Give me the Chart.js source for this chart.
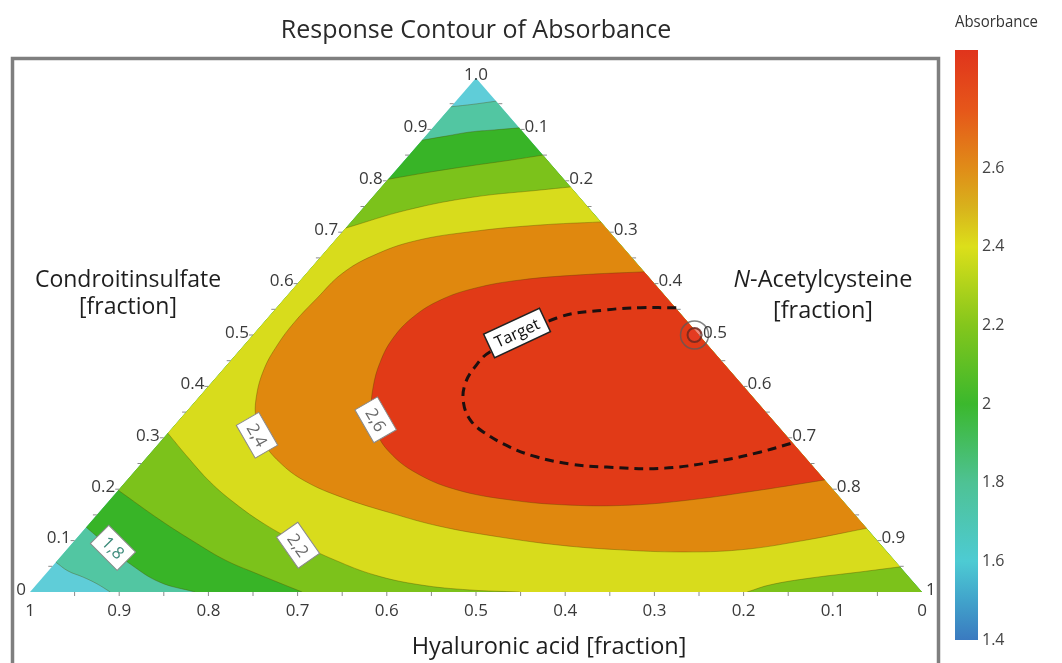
<!DOCTYPE html>
<html>
<head>
<meta charset="utf-8">
<script src="https://cdn.jsdelivr.net/npm/chart.js@4.4.1/dist/chart.umd.min.js"></script>
<style>
  html, body { margin: 0; padding: 0; background: #fff; }
  #wrap { position: relative; width: 1062px; height: 663px; overflow: hidden; }
  #main { position: absolute; left: 0; top: 0; }
  #bar { position: absolute; left: 930px; top: 0; }
</style>
</head>
<body>
<div id="wrap">
  <canvas id="main" width="1062" height="663"></canvas>
  <canvas id="bar" width="132" height="663"></canvas>
</div>
<script>
const FONT = "'Open Sans', 'Noto Sans', sans-serif";
const chartTitle = "Response Contour of Absorbance";

// contour levels, low to high
const levels = [1.6, 1.8, 2.0, 2.2, 2.4, 2.6];

// contour lines, points are [N-Acetylcysteine, Condroitinsulfate] fractions
const c16Top = [[0, 0.944], [0.023, 0.949], [0.045, 0.955]];
const c16Low = [[0, 0.058], [0.022, 0.041], [0.045, 0.029], [0.067, 0.016], [0.090, 0]];
const c18Top = [[0, 0.879], [0.023, 0.887], [0.046, 0.895], [0.071, 0.899], [0.097, 0.903]];
const c18Low = [[0, 0.126], [0.047, 0.086], [0.087, 0.053], [0.136, 0.019], [0.185, 0]];
const c20Top = [[0, 0.803], [0.040, 0.817], [0.079, 0.829], [0.118, 0.840], [0.150, 0.850]];
const c20Low = [[0, 0.198], [0.076, 0.140], [0.139, 0.095], [0.188, 0.062], [0.234, 0.037], [0.305, 0]];
const c22Top = [[0, 0.708], [0.051, 0.743], [0.112, 0.768], [0.181, 0.782], [0.212, 0.788]];
const c22Low = [[0, 0.309], [0.047, 0.261], [0.095, 0.214], [0.143, 0.173], [0.197, 0.132],
  [0.254, 0.095], [0.311, 0.062], [0.370, 0.033], [0.430, 0.014], [0.491, 0.004], [0.549, 0]];
const c22Right = [[0.951, 0.049], [0.911, 0.039], [0.861, 0.027], [0.823, 0.014], [0.804, 0]];
const c24 = [[0.280, 0.720], [0.215, 0.714], [0.148, 0.702], [0.090, 0.683], [0.057, 0.654],
  [0.040, 0.619], [0.036, 0.572], [0.034, 0.525], [0.037, 0.481], [0.046, 0.432], [0.065, 0.377],
  [0.086, 0.335], [0.114, 0.294], [0.153, 0.253], [0.200, 0.216], [0.260, 0.183], [0.327, 0.154],
  [0.395, 0.128], [0.473, 0.107], [0.549, 0.091], [0.621, 0.082], [0.690, 0.078], [0.755, 0.082],
  [0.814, 0.099], [0.876, 0.124]];
const c26 = [[0.377, 0.623], [0.308, 0.617], [0.246, 0.607], [0.203, 0.591], [0.176, 0.568],
  [0.162, 0.535], [0.160, 0.494], [0.169, 0.447], [0.186, 0.397], [0.206, 0.354], [0.233, 0.311],
  [0.267, 0.272], [0.315, 0.233], [0.376, 0.200], [0.449, 0.179], [0.521, 0.169], [0.588, 0.169],
  [0.650, 0.179], [0.719, 0.198], [0.782, 0.218]];
const targetLine = [[0.448, 0.553], [0.408, 0.553], [0.373, 0.549], [0.324, 0.533], [0.282, 0.467],
  [0.280, 0.436], [0.286, 0.403], [0.302, 0.368], [0.326, 0.335], [0.353, 0.311], [0.397, 0.282],
  [0.436, 0.263], [0.481, 0.249], [0.525, 0.243], [0.591, 0.241], [0.650, 0.257], [0.682, 0.272],
  [0.710, 0.290]];
const targetPoint = [[0.495, 0.5]];

// triangle corners: Hyaluronic acid, N-Acetylcysteine, Condroitinsulfate = 1
const cornerH = [0, 0], cornerN = [1, 0], cornerC = [0, 1];

// tick labels
const leftTicks = ["0", "0.1", "0.2", "0.3", "0.4", "0.5", "0.6", "0.7", "0.8", "0.9", "1.0"];
const rightTicks = ["0", "0.1", "0.2", "0.3", "0.4", "0.5", "0.6", "0.7", "0.8", "0.9", "1"];
const bottomTicks = ["1", "0.9", "0.8", "0.7", "0.6", "0.5", "0.4", "0.3", "0.2", "0.1", "0"];

const contourTags = [
  { text: "1,8", n: 0.050, c: 0.086, angle: 45 },
  { text: "2,2", n: 0.255, c: 0.091, angle: 55 },
  { text: "2,4", n: 0.102, c: 0.305, angle: 60 },
  { text: "2,6", n: 0.220, c: 0.335, angle: 60 }
];
const targetTag = { text: "Target", n: 0.294, c: 0.504, angle: -25 };

// colour bar
const colorbarTicks = [1.4, 1.6, 1.8, 2, 2.2, 2.4, 2.6];
const colorbarRange = [1.4, 2.9];
const colorbarStops = [[1.4, "#3a7ac0"], [1.5, "#41a3cb"], [1.6, "#4dcbd3"], [1.8, "#4ec294"],
  [2.0, "#3bb82d"], [2.2, "#84c61c"], [2.4, "#dcdf1a"], [2.5, "#d8b21c"], [2.6, "#e08c18"],
  [2.75, "#e6561a"], [2.9, "#e0341c"]];

const bandColors = ["#5fcdd8", "#52c6a2", "#38b427", "#7cc21b", "#d8dc1c", "#e0880e", "#e13a17"];

function toXY(p) { return { x: p[0] + p[1] / 2, y: p[1] }; }
function rev(a) { return a.slice().reverse(); }
// repeat the ends of every piece so the curve runs straight along the triangle edges
function joinParts(...parts) {
  const out = [];
  parts.forEach(p => out.push(p[0], ...p, p[p.length - 1]));
  return out;
}

const bands = [
  [cornerH, cornerN, cornerC],
  joinParts(c16Top, [cornerN], rev(c16Low)),
  joinParts(c18Top, [cornerN], rev(c18Low)),
  joinParts(c20Top, [cornerN], rev(c20Low)),
  joinParts(c22Top, c22Right, rev(c22Low)),
  c24,
  c26
];
const contourLines = [c16Top, c16Low, c18Top, c18Low, c20Top, c20Low, c22Top, c22Low, c22Right, c24, c26];
const TENSION = 0.4;

const datasets = [];
bands.forEach((poly, i) => {
  datasets.push({
    data: poly.map(toXY),
    backgroundColor: bandColors[i],
    borderWidth: 0,
    pointRadius: 0,
    tension: i === 0 ? 0 : TENSION,
    fill: "shape",
    order: 30 - i
  });
});
contourLines.forEach(line => {
  datasets.push({
    data: line.map(toXY),
    borderColor: "rgba(80,70,0,0.35)",
    borderWidth: 1,
    pointRadius: 0,
    tension: TENSION,
    fill: false,
    order: 10
  });
});
datasets.push({
  data: targetLine.map(toXY),
  borderColor: "#1c1010",
  borderWidth: 3,
  borderDash: [9, 6],
  pointRadius: 0,
  tension: TENSION,
  fill: false,
  order: 5
});
datasets.push({
  data: targetPoint.map(toXY),
  showLine: false,
  pointRadius: 14,
  pointBorderWidth: 1.5,
  pointBorderColor: "rgba(90,90,90,0.75)",
  pointBackgroundColor: "rgba(0,0,0,0)",
  order: 2
});
datasets.push({
  data: targetPoint.map(toXY),
  showLine: false,
  pointRadius: 7,
  pointBorderWidth: 2,
  pointBorderColor: "rgba(110,40,30,0.85)",
  pointBackgroundColor: "rgba(230,60,40,0.6)",
  order: 1
});

function pos(chart, n, c) {
  const p = toXY([n, c]);
  return [chart.scales.x.getPixelForValue(p.x), chart.scales.y.getPixelForValue(p.y)];
}

function drawTag(ctx, x, y, tag, font, color, border, lw) {
  ctx.save();
  ctx.translate(x, y);
  ctx.rotate(tag.angle * Math.PI / 180);
  ctx.font = font;
  const w = ctx.measureText(tag.text).width + 14;
  const h = 26;
  ctx.fillStyle = "#fff";
  ctx.fillRect(-w / 2, -h / 2, w, h);
  ctx.strokeStyle = border;
  ctx.lineWidth = lw;
  ctx.strokeRect(-w / 2, -h / 2, w, h);
  ctx.fillStyle = color;
  ctx.textAlign = "center";
  ctx.textBaseline = "middle";
  ctx.fillText(tag.text, 0, 1);
  ctx.restore();
}

const ternaryDecor = {
  id: "ternaryDecor",
  beforeDraw(chart) {
    const ctx = chart.ctx;
    ctx.save();
    ctx.strokeStyle = "#7f7f7f";
    ctx.lineWidth = 3.5;
    ctx.strokeRect(12.5, 58.5, 926, 700);
    ctx.restore();
  },
  afterDatasetsDraw(chart) {
    const ctx = chart.ctx;
    ctx.save();

    // small ticks on the three edges
    ctx.strokeStyle = "#8a8a8a";
    ctx.lineWidth = 1;
    for (let i = 1; i < 20; i++) {
      const f = i / 20;
      let [x, y] = pos(chart, f, 0);
      ctx.beginPath(); ctx.moveTo(x, y); ctx.lineTo(x, y + 4); ctx.stroke();
      [x, y] = pos(chart, 0, f);
      ctx.beginPath(); ctx.moveTo(x, y); ctx.lineTo(x - 4, y); ctx.stroke();
      [x, y] = pos(chart, f, 1 - f);
      ctx.beginPath(); ctx.moveTo(x, y); ctx.lineTo(x + 4, y); ctx.stroke();
    }

    // tick labels
    ctx.fillStyle = "#3a3a3a";
    ctx.font = "17px " + FONT;
    ctx.textBaseline = "middle";
    leftTicks.forEach((t, i) => {
      const [x, y] = pos(chart, 0, i / 10);
      if (i === 10) {
        ctx.textAlign = "center";
        ctx.fillText(t, x, y - 3);
      } else {
        ctx.textAlign = "right";
        ctx.fillText(t, x - 4, y - 2);
      }
    });
    ctx.textAlign = "left";
    rightTicks.forEach((t, i) => {
      if (i === 0) return;
      const [x, y] = pos(chart, i / 10, 1 - i / 10);
      ctx.fillText(t, x + 4, y - 2);
    });
    ctx.textAlign = "center";
    bottomTicks.forEach((t, i) => {
      const [x, y] = pos(chart, i / 10, 0);
      ctx.fillText(t, x, y + 19);
    });

    // axis titles
    ctx.fillStyle = "#1e1e1e";
    ctx.font = "23px " + FONT;
    ctx.fillText("Condroitinsulfate", 128, 280);
    ctx.fillText("[fraction]", 128, 307);
    ctx.font = "23.5px " + FONT;
    ctx.fillText("Hyaluronic acid [fraction]", 549, 647);
    ctx.fillText("[fraction]", 823, 311);
    const rest = "-Acetylcysteine";
    ctx.font = "italic 23.5px " + FONT;
    const wN = ctx.measureText("N").width;
    ctx.font = "23.5px " + FONT;
    const wR = ctx.measureText(rest).width;
    const x0 = 823 - (wN + wR) / 2;
    ctx.textAlign = "left";
    ctx.font = "italic 23.5px " + FONT;
    ctx.fillText("N", x0, 280);
    ctx.font = "23.5px " + FONT;
    ctx.fillText(rest, x0 + wN, 280);

    // contour labels
    contourTags.forEach(tag => {
      const [x, y] = pos(chart, tag.n, tag.c);
      const col = tag.text === "1,8" ? "#3f8c7c" : "#6a6a6a";
      drawTag(ctx, x, y, tag, "17px " + FONT, col, "#8a8a8a", 1);
    });
    const [tx, ty] = pos(chart, targetTag.n, targetTag.c);
    drawTag(ctx, tx, ty, targetTag, "16px " + FONT, "#111", "#222", 1.5);

    ctx.restore();
  }
};

new Chart(document.getElementById("main"), {
  type: "line",
  data: { datasets },
  options: {
    responsive: false,
    animation: false,
    devicePixelRatio: 1,
    layout: { padding: { left: 30, right: 140, top: 0, bottom: 71 } },
    plugins: {
      legend: { display: false },
      tooltip: { enabled: false },
      title: {
        display: true,
        text: chartTitle,
        color: "#2a2a2a",
        font: { family: FONT, size: 25, weight: "normal", lineHeight: 1.2 },
        padding: { top: 16, bottom: 32 }
      }
    },
    scales: {
      x: { type: "linear", min: 0, max: 1, display: false },
      y: { type: "linear", min: 0, max: 1, display: false }
    }
  },
  plugins: [ternaryDecor]
});

function barGradient(chart) {
  const area = chart.chartArea;
  const ys = chart.scales.y;
  if (!area || !ys) return colorbarStops[0][1];
  const y0 = ys.getPixelForValue(colorbarRange[0]);
  const y1 = ys.getPixelForValue(colorbarRange[1]);
  const g = chart.ctx.createLinearGradient(0, y0, 0, y1);
  colorbarStops.forEach(s => {
    g.addColorStop((s[0] - colorbarRange[0]) / (colorbarRange[1] - colorbarRange[0]), s[1]);
  });
  return g;
}

new Chart(document.getElementById("bar"), {
  type: "bar",
  data: {
    labels: ["Absorbance"],
    datasets: [{
      data: [colorbarRange],
      backgroundColor: ctx => barGradient(ctx.chart),
      borderWidth: 0,
      barPercentage: 1,
      categoryPercentage: 1
    }]
  },
  options: {
    responsive: false,
    animation: false,
    devicePixelRatio: 1,
    layout: { padding: { left: 25, right: 24, top: 0, bottom: 23 } },
    plugins: {
      legend: { display: false },
      tooltip: { enabled: false },
      title: {
        display: true,
        text: "Absorbance",
        color: "#333",
        font: { family: FONT, size: 16, weight: "normal", lineHeight: 1.2 },
        padding: { top: 13, bottom: 17.8 }
      }
    },
    scales: {
      x: { display: false },
      y: {
        position: "right",
        min: colorbarRange[0],
        max: colorbarRange[1],
        grid: { display: false, drawTicks: false },
        border: { display: false },
        afterBuildTicks: s => { s.ticks = colorbarTicks.map(v => ({ value: v })); },
        afterFit: s => { s.width = 60; },
        ticks: {
          color: "#444",
          padding: 4,
          font: { family: FONT, size: 16 },
          callback: v => String(Math.round(v * 10) / 10)
        }
      }
    }
  }
});
</script>
</body>
</html>
